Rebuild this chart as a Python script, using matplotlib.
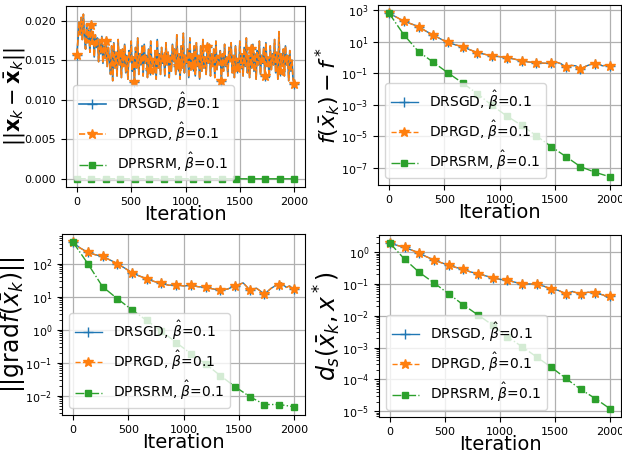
import matplotlib
matplotlib.use("Agg")
import matplotlib.pyplot as plt
import numpy as np

# marker iterations (16 markers over 2000 iterations)
mark_iters = [0, 133, 267, 400, 533, 667, 800, 933, 1067, 1200, 1333, 1467, 1600, 1733, 1867, 2000]

# ---- panel 1: consensus error, sampled every 10 iterations (x1e-3)
cons_iters = list(range(0, 2001, 10))
cons_err = [
    15.7, 17.5, 19.8, 18.2, 20.4, 17.6, 20.8, 18.0, 16.4, 19.6, 17.2, 18.8, 16.0, 19.4, 17.0, 18.6,
    15.4, 18.2, 16.6, 17.8, 14.8, 17.6, 15.8, 18.0, 14.6, 16.8, 15.2, 17.4, 14.2, 16.6, 15.0,
    13.2, 16.8, 12.4, 17.2, 14.0, 16.0, 13.0, 17.6, 14.4, 15.8,
    12.8, 16.4, 14.2, 17.0, 13.4, 15.6, 12.6, 16.2, 14.8, 17.4,
    13.6, 15.4, 12.2, 16.6, 14.0, 17.8, 13.2, 15.8, 14.4, 16.8,
    13.0, 17.0, 14.6, 15.6, 12.8, 16.4, 13.8, 17.4, 14.2, 15.2,
    13.4, 16.2, 12.6, 17.6, 14.0, 15.8, 13.2, 16.6, 14.6, 15.4,
    13.0, 17.2, 14.4, 16.0, 12.8, 15.6, 13.6, 17.0, 14.8, 16.4,
    13.2, 18.2, 14.2, 15.8, 12.6, 16.8, 14.0, 18.4, 13.4, 15.6,
    14.6, 16.4, 12.8, 17.8, 13.8, 15.8, 14.2, 16.8, 13.0, 17.2,
    14.4, 15.6, 12.6, 16.8, 13.6, 17.6, 14.0, 15.4, 13.2, 16.6,
    14.6, 17.0, 13.0, 15.8, 14.2, 16.4, 12.8, 17.4, 13.8, 15.6,
    14.4, 16.2, 12.4, 15.8, 13.6, 17.0, 14.2, 15.4, 13.0, 16.6,
    14.8, 17.2, 13.4, 15.6, 12.8, 16.8, 14.0, 15.2, 13.6, 17.4,
    14.4, 15.8, 13.0, 16.6, 14.2, 17.8, 13.4, 15.6, 12.8, 16.4,
    14.0, 17.0, 13.6, 15.8, 12.6, 16.2, 14.4, 17.4, 13.2, 15.6,
    14.6, 16.6, 13.0, 17.2, 14.2, 15.4, 12.8, 16.8, 13.8, 15.8,
    14.4, 17.6, 13.4, 16.0, 12.6, 18.6, 13.6, 15.8, 14.2, 16.4,
    13.0, 16.8, 14.4, 15.6, 12.4, 16.2, 13.6, 15.0, 12.6, 12.0,
]
cons_green = [0.00002, 0.00001, 0.00001, 0.00001, 0.00001, 0.00001, 0.00001, 0.00001,
              0.00001, 0.00001, 0.00001, 0.00001, 0.00001, 0.00001, 0.00001, 0.00001]

# ---- panel 2: objective gap
fgap_iters = [0, 133, 200, 267, 330, 400, 470, 533, 600, 667, 730, 800, 870, 933, 1000, 1067, 1130,
              1200, 1270, 1333, 1400, 1467, 1520, 1560, 1600, 1650, 1690, 1733, 1780, 1820, 1867,
              1900, 1930, 1970, 2000]
fgap_dprgd = [670, 210, 140, 95, 50, 27, 15, 9.3, 6.5, 4.9, 3.2, 2.1, 1.6, 1.3, 1.15, 1.0, 0.82,
              0.62, 0.52, 0.48, 0.44, 0.43, 0.50, 0.40, 0.24, 0.32, 0.30, 0.19, 0.28, 0.36, 0.42,
              0.40, 0.30, 0.33, 0.28]
fgap_green = [670, 29, 2.4, 0.51, 0.107, 0.024, 5e-3, 9e-4, 1.9e-4, 4.9e-5, 1.07e-5, 2.2e-6,
              5.1e-7, 1.15e-7, 5e-8, 2.6e-8]

# ---- panel 3: gradient norm
grad_iters = [0, 60, 133, 200, 267, 330, 400, 470, 533, 600, 667, 730, 800, 870, 933, 1000, 1067,
              1130, 1200, 1270, 1333, 1400, 1467, 1540, 1600, 1660, 1733, 1795, 1850, 1867, 1886,
              1930, 1960, 2000]
grad_dprgd = [440, 300, 218, 185, 165, 130, 100, 72, 53, 42, 35, 29, 25, 22, 23, 21, 22,
              20, 19, 17, 15.5, 17, 21, 26, 16, 18, 12, 18, 23, 23, 26,
              19, 21, 16.6]
grad_green = [440, 100, 20, 8.7, 4.0, 1.9, 0.91, 0.41, 0.19, 0.093, 0.041, 0.019, 0.0095,
              0.0055, 0.0055, 0.0047]

# ---- panel 4: distance to optimum
dist_iters = [0, 133, 200, 267, 330, 400, 470, 533, 600, 667, 730, 800, 870, 933, 1000, 1067,
              1130, 1200, 1270, 1333, 1400, 1467, 1530, 1600, 1660, 1733, 1800, 1867, 1940, 1980, 2000]
dist_dprgd = [1.9, 1.4, 1.15, 0.93, 0.72, 0.57, 0.46, 0.39, 0.33, 0.29, 0.24, 0.21, 0.18, 0.155,
              0.14, 0.13, 0.115, 0.10, 0.10, 0.098, 0.085, 0.069, 0.063, 0.049, 0.058, 0.048,
              0.055, 0.052, 0.045, 0.037, 0.041]
dist_green = [1.9, 0.60, 0.23, 0.108, 0.049, 0.022, 0.0106, 0.0051, 0.0022, 0.00107, 5.1e-4,
              2.4e-4, 1.07e-4, 4.9e-5, 2.5e-5, 1.2e-5]

labels = [r'DRSGD, $\hat{\beta}$=0.1', r'DPRGD, $\hat{\beta}$=0.1', r'DPRSRM, $\hat{\beta}$=0.1']
ylabels = [r'$||\mathbf{x}_k - \bar{\mathbf{x}}_k||$', r'$f(\bar{x}_k) - f^*$',
           r'$||\mathrm{grad}f(\bar{x}_k)||$', r'$d_s(\bar{x}_k, x^*)$']

fig = plt.figure(figsize=(6.22, 4.59), dpi=100)
rects = [[66/622, 1-187/459, 239/622, 181/459],
         [378/622, 1-185/459, 243/622, 180/459],
         [62/622, 1-415/459, 243/622, 181/459],
         [379/622, 1-417/459, 242/622, 182/459]]
# right edge of the y label, axes fraction
label_x = [-0.16, -0.15, -0.142, -0.15]
label_size = [15, 16, 17, 17]
line_w = [1.2, 1, 1, 1]


def nearest_marks(iters):
    arr = np.array(iters)
    return [int(np.argmin(np.abs(arr - m))) for m in mark_iters]


panels = [
    (cons_iters, np.array(cons_err) * 1e-3, cons_green, False),
    (fgap_iters, fgap_dprgd, fgap_green, True),
    (grad_iters, grad_dprgd, grad_green, True),
    (dist_iters, dist_dprgd, dist_green, True),
]

for k, (xs, ys, yg, logy) in enumerate(panels):
    ax = fig.add_axes(rects[k])
    me = nearest_marks(xs)
    ax.plot(xs, ys, color='C0', linestyle='-', lw=line_w[k], marker='+', ms=7, markevery=me, label=labels[0])
    ax.plot(xs, ys, color='C1', linestyle='--', lw=line_w[k], marker='*', ms=7, markevery=me, label=labels[1])
    ax.plot(mark_iters, yg, color='C2', linestyle='-.', lw=1, marker='s', ms=5, label=labels[2])
    if logy:
        ax.set_yscale('log')
    ax.grid(True, color='#b0b0b0', lw=0.9)
    ax.set_xticks([0, 500, 1000, 1500, 2000])
    ax.tick_params(labelsize=8)
    ax.set_xlabel('Iteration', fontsize=14, labelpad=-1)
    ax.set_ylabel(ylabels[k], fontsize=label_size[k])
    ax.yaxis.set_label_coords(label_x[k], 0.5)
    ax.legend(loc='lower left', fontsize=10)

fig.savefig('out.png', dpi=100)
